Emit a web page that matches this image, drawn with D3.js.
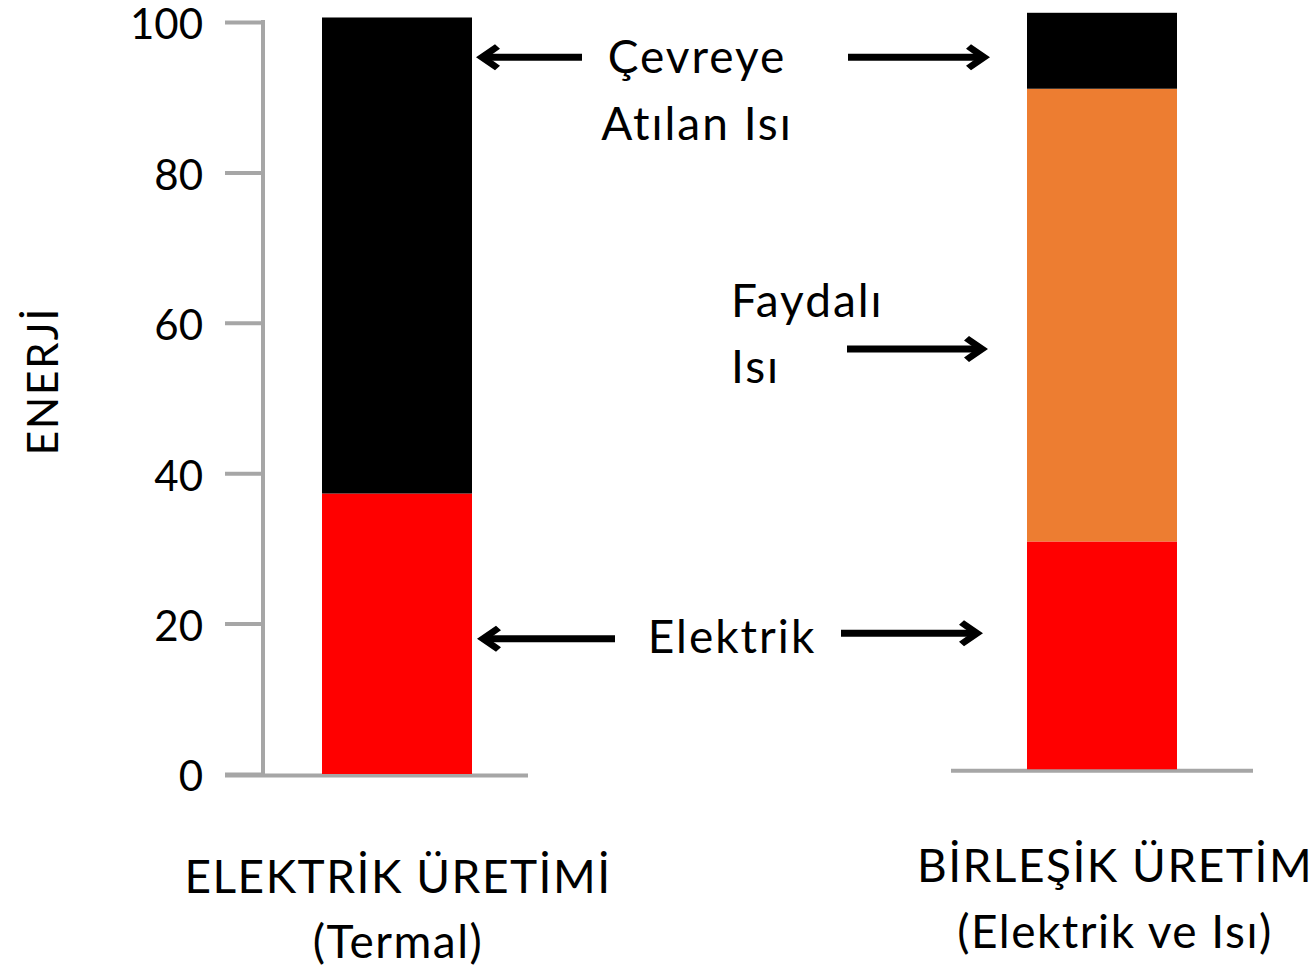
<!DOCTYPE html>
<html>
<head>
<meta charset="utf-8">
<script src="https://cdn.jsdelivr.net/npm/d3@7"></script>
<style>
  html, body { margin: 0; padding: 0; background: #fff; }
  svg { display: block; }
  text { font-family: Lato, "Open Sans", sans-serif; fill: #000; }
</style>
</head>
<body>
<svg id="chart" width="1315" height="968"></svg>
<script>
// categories and series
var categories = ["ELEKTRİK ÜRETİMİ", "BİRLEŞİK ÜRETİM"];
var categoryLines = [["ELEKTRİK ÜRETİMİ", "(Termal)"], ["BİRLEŞİK ÜRETİM", "(Elektrik ve Isı)"]];
var seriesKeys = ["Elektrik", "Faydalı Isı", "Çevreye Atılan Isı"];
var elektrik = [37.3, 30.3];
var faydaliIsi = [0, 60.2];
var cevreyeAtilan = [63.3, 10.1];
var tickValues = [0, 20, 40, 60, 80, 100];
var colors = ["#ff0000", "#ed7d31", "#000000"];

var svg = d3.select("#chart");
var grey = "#a6a6a6";

var rows = categories.map(function (c, i) {
    return { cat: c, "Elektrik": elektrik[i], "Faydalı Isı": faydaliIsi[i], "Çevreye Atılan Isı": cevreyeAtilan[i] };
});
var stacked = d3.stack().keys(seriesKeys)(rows);

var x = d3.scalePoint().domain(categories).range([397, 1102]);
var barW = 150;
// each panel has its own baseline
var yScales = [
    d3.scaleLinear().domain([0, 100]).range([774, 22]),
    d3.scaleLinear().domain([0, 100]).range([769.3, 17.3])
];

// left axis
var axis = d3.axisLeft(yScales[0]).tickValues(tickValues).tickSize(38).tickPadding(22);
var ax = svg.append("g").attr("transform", "translate(263,0)").call(axis);
ax.select(".domain").remove();
ax.selectAll(".tick line").attr("stroke", grey).attr("stroke-width", 4);
ax.selectAll(".tick text").style("font-size", "42px").attr("dy", "0.4em").style("font-family", "Lato, sans-serif");
ax.append("line").attr("x1", 0).attr("x2", 0)
    .attr("y1", yScales[0](100) - 2).attr("y2", yScales[0](0))
    .attr("stroke", grey).attr("stroke-width", 4);

// baselines
var baseX = [[225, 528], [951, 1253]];
categories.forEach(function (c, i) {
    svg.append("line")
        .attr("x1", baseX[i][0]).attr("x2", baseX[i][1])
        .attr("y1", yScales[i](0) + 1.5).attr("y2", yScales[i](0) + 1.5)
        .attr("stroke", grey).attr("stroke-width", 4);
});

// stacked bars
svg.append("g").selectAll("g").data(stacked).join("g")
    .attr("fill", function (d, k) { return colors[k]; })
    .selectAll("rect").data(function (d) { return d; }).join("rect")
    .attr("x", function (d) { return x(d.data.cat) - barW / 2; })
    .attr("width", barW)
    .attr("y", function (d, i) { return yScales[i](d[1]); })
    .attr("height", function (d, i) { return yScales[i](d[0]) - yScales[i](d[1]); });

// y title
svg.append("text")
    .attr("transform", "translate(58,381) rotate(-90)")
    .attr("text-anchor", "middle")
    .style("font-size", "42px")
    .style("letter-spacing", "2px")
    .text("ENERJİ");

// category labels
var labelOffset = [1, 13];
var labelY = [[893, 958], [882, 948]];
categoryLines.forEach(function (lines, i) {
    lines.forEach(function (t, j) {
        svg.append("text")
            .attr("x", x(categories[i]) + labelOffset[i])
            .attr("y", labelY[i][j])
            .attr("text-anchor", "middle")
            .style("font-size", "46px")
            .style("letter-spacing", "1.5px")
            .text(t);
    });
});

// annotations
var notes = [
    { lines: ["Çevreye", "Atılan Isı"], x: 697, y: [73, 140], anchor: "middle" },
    { lines: ["Faydalı", "Isı"], x: 731, y: [317, 383], anchor: "start" },
    { lines: ["Elektrik"], x: 732, y: [653], anchor: "middle" }
];
notes.forEach(function (n) {
    n.lines.forEach(function (t, j) {
        svg.append("text").attr("x", n.x).attr("y", n.y[j])
            .attr("text-anchor", n.anchor)
            .style("font-size", "46px")
            .style("letter-spacing", "2px")
            .text(t);
    });
});

// arrows: panel, value it points at, start x, tip x
var arrows = [
    { panel: 0, v: 95.3, from: 582, to: 476 },
    { panel: 1, v: 94.7, from: 848, to: 990 },
    { panel: 1, v: 55.9, from: 847, to: 988 },
    { panel: 0, v: 18.0, from: 615, to: 477 },
    { panel: 1, v: 18.1, from: 841, to: 983 }
];
var head = "M0,0 L-19,-13 L-24,-8.5 L-12,0 L-24,8.5 L-19,13 Z";
arrows.forEach(function (a) {
    var yy = yScales[a.panel](a.v);
    var dir = a.to > a.from ? 1 : -1;
    svg.append("line")
        .attr("x1", a.from).attr("x2", a.to - dir * 12)
        .attr("y1", yy).attr("y2", yy)
        .attr("stroke", "#000").attr("stroke-width", 7);
    svg.append("path")
        .attr("d", head)
        .attr("transform", "translate(" + a.to + "," + yy + ") scale(" + dir + ",1)")
        .attr("fill", "#000");
});
</script>
</body>
</html>
